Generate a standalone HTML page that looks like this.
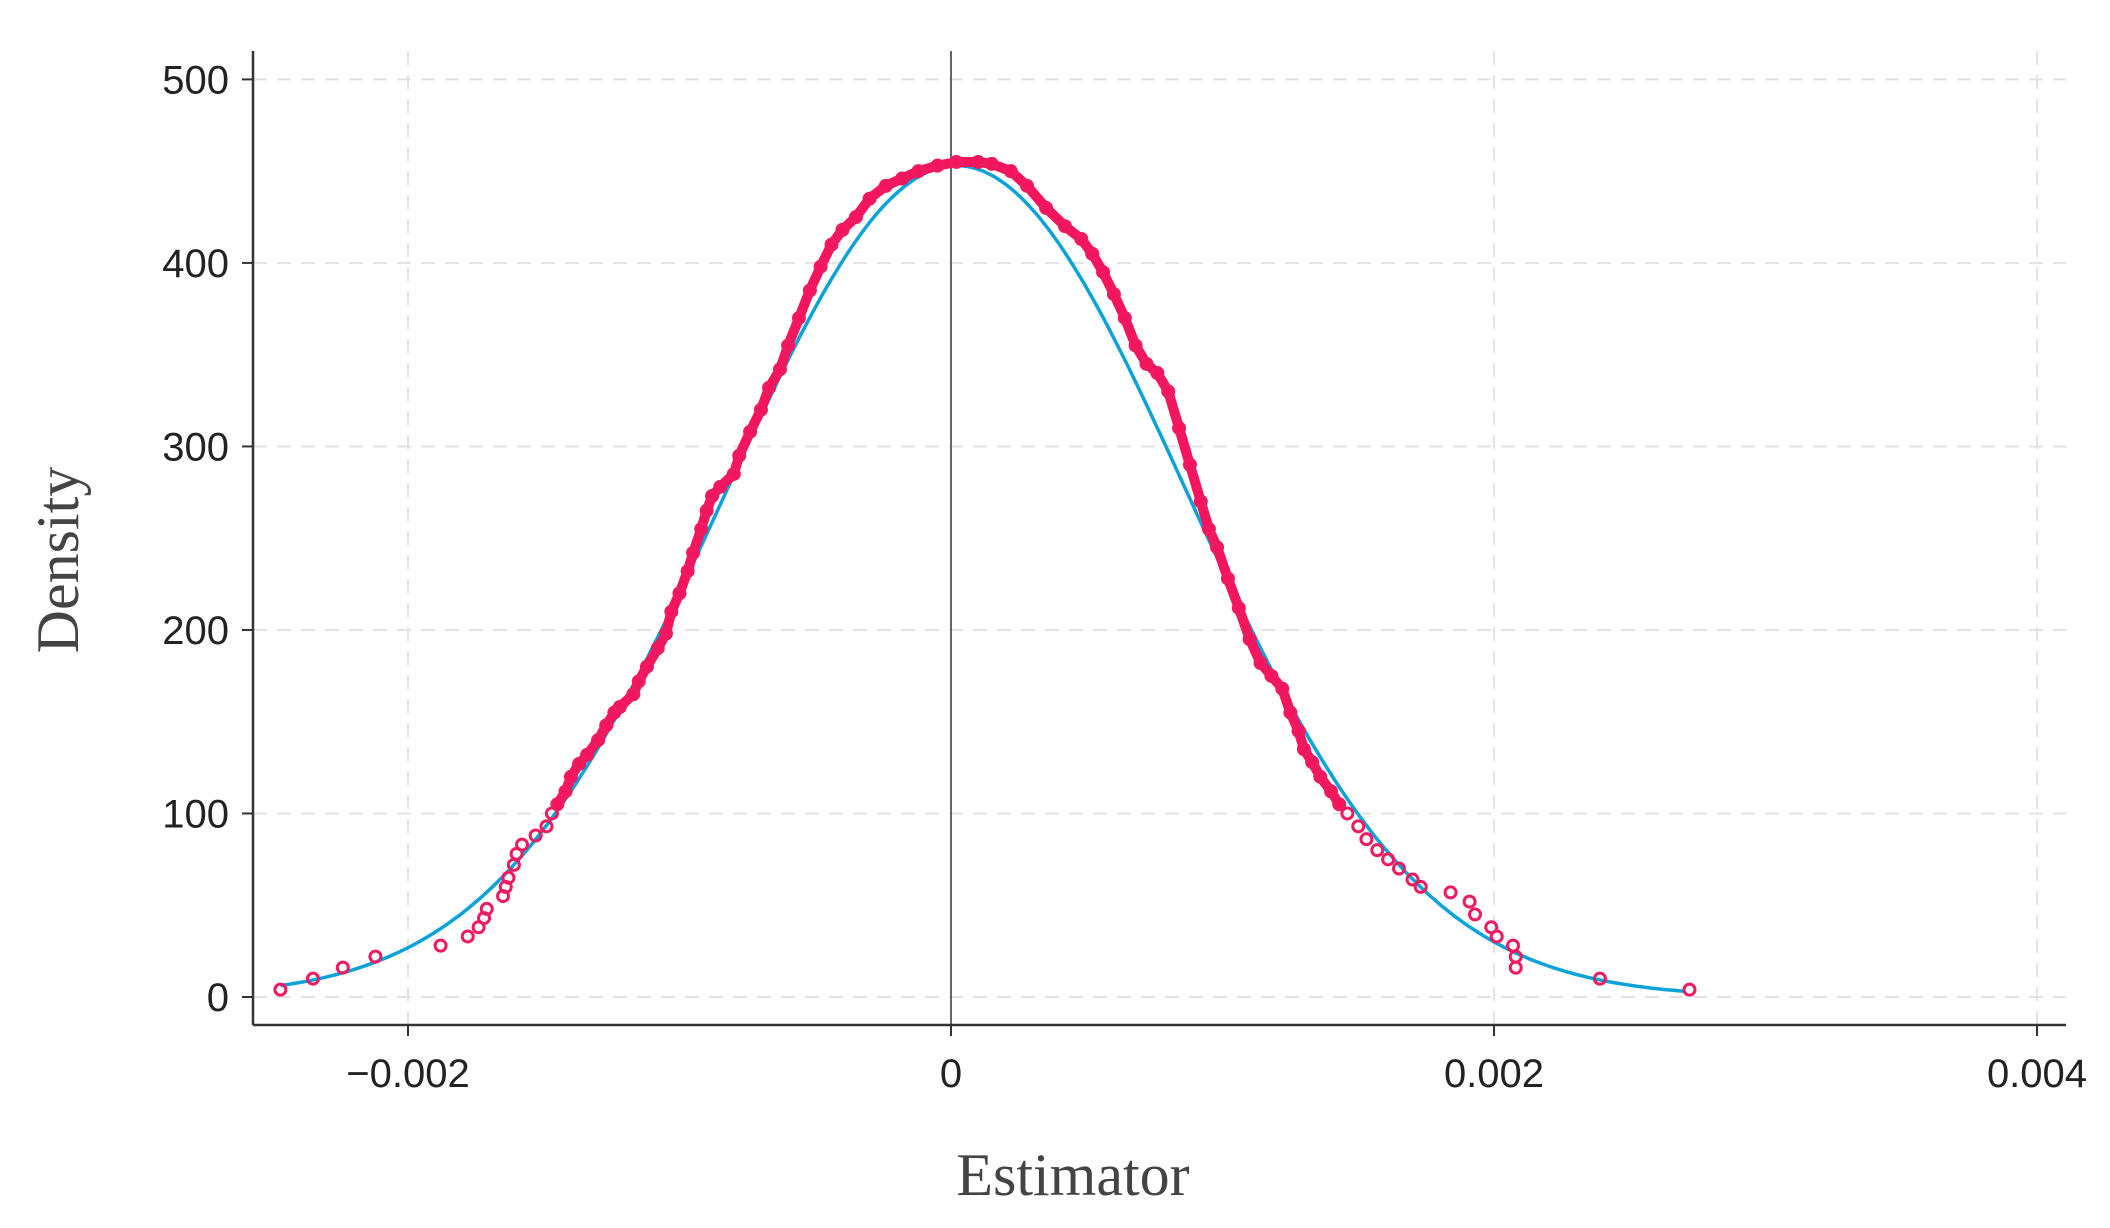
<!DOCTYPE html>
<html><head><meta charset="utf-8"><style>
html,body{margin:0;padding:0;background:#fff;}
svg{display:block;}
</style></head><body>
<svg id="chart" width="2110" height="1228" viewBox="0 0 2110 1228" xmlns="http://www.w3.org/2000/svg">
<g id="grid"></g>
<g id="axes"></g>
<g id="marks"></g>
<text transform="translate(78,560) rotate(-90)" text-anchor="middle" font-family="Liberation Serif, serif" font-size="60" fill="#444">Density</text>
<text x="1073" y="1195" text-anchor="middle" font-family="Liberation Serif, serif" font-size="60" fill="#444">Estimator</text>
</svg>
<script>
const xTicks=[-0.002,0,0.002,0.004];
const xTickLabels=["\u22120.002","0","0.002","0.004"];
const yTicks=[0,100,200,300,400,500];
const yTickLabels=["0","100","200","300","400","500"];
const normalMean=0.00002;
const normalPeak=453;
const normalSigma=0.00085;
const normalRange=[-0.00247,0.0027];
const empX=[-2.47,-2.35,-2.24,-2.12,-1.88,-1.78,-1.74,-1.72,-1.71,-1.65,-1.64,-1.63,-1.61,-1.60,-1.58,-1.53,-1.49,-1.47,-1.45,-1.42,-1.40,-1.37,-1.34,-1.30,-1.27,-1.24,-1.22,-1.17,-1.15,-1.12,-1.08,-1.05,-1.03,-1.00,-0.97,-0.95,-0.92,-0.90,-0.88,-0.85,-0.80,-0.78,-0.74,-0.70,-0.67,-0.63,-0.60,-0.56,-0.52,-0.48,-0.44,-0.40,-0.35,-0.30,-0.24,-0.18,-0.12,-0.05,0.02,0.10,0.15,0.22,0.28,0.35,0.42,0.48,0.52,0.56,0.60,0.64,0.68,0.72,0.76,0.80,0.84,0.88,0.92,0.95,0.98,1.02,1.06,1.10,1.14,1.18,1.22,1.25,1.28,1.30,1.33,1.36,1.40,1.43,1.46,1.50,1.53,1.57,1.61,1.65,1.70,1.73,1.84,1.91,1.93,1.99,2.01,2.07,2.08,2.08,2.39,2.72];
const empY=[4,10,16,22,28,33,38,43,48,55,60,65,72,78,83,88,93,100,105,112,120,127,132,140,148,155,158,165,172,180,190,198,210,220,232,242,255,265,273,278,285,295,308,320,332,342,355,370,385,398,410,418,425,435,442,446,450,453,455,455,454,450,442,430,420,413,405,395,383,370,355,345,340,330,310,290,270,255,245,228,212,195,182,175,168,155,145,135,128,120,112,105,100,93,86,80,75,70,64,60,57,52,45,38,33,28,22,16,10,4];

const NS="http://www.w3.org/2000/svg";
const L=253,R=2066,T=51,B=1025;
const X=v=>408+(v+0.002)*(1494-408)/0.004;
const Y=v=>997-v*(997-79.4)/500;
function mk(tag,attrs,parent){const e=document.createElementNS(NS,tag);for(const k in attrs)e.setAttribute(k,attrs[k]);parent.appendChild(e);return e;}
const grid=document.getElementById('grid'),axes=document.getElementById('axes'),marks=document.getElementById('marks');
yTicks.forEach((t,i)=>{
  const g=mk('line',{x1:L,x2:R,y1:Y(t),y2:Y(t),stroke:'#e3e3e3','stroke-width':2,'stroke-dasharray':'14,10'},grid);
  
  
  const tk=mk('line',{x1:L-11,x2:L,y1:Y(t),y2:Y(t),stroke:'#333','stroke-width':2},axes);
  
  
  const tx=mk('text',{x:L-24,y:Y(t)+14,'text-anchor':'end','font-family':'Liberation Sans, sans-serif','font-size':40,fill:'#222'},axes);
  tx.textContent=yTickLabels[i];
  
  
});
xTicks.forEach((t,i)=>{
  if(t!==0){
    const g=mk('line',{x1:X(t),x2:X(t),y1:T,y2:B,stroke:'#e3e3e3','stroke-width':2,'stroke-dasharray':'14,10'},grid);
    
    
  }
  const tk=mk('line',{x1:X(t),x2:X(t),y1:B,y2:B+11,stroke:'#333','stroke-width':2},axes);
  
  
  const tx=mk('text',{x:X(t),y:B+62,'text-anchor':'middle','font-family':'Liberation Sans, sans-serif','font-size':40,fill:'#222'},axes);
  tx.textContent=xTickLabels[i];
  
  
});
const zl=mk('line',{x1:X(0),x2:X(0),y1:T,y2:B,stroke:'#666','stroke-width':2},axes);


const ya=mk('line',{x1:L,x2:L,y1:T,y2:B,stroke:'#333','stroke-width':2.5},axes);


const xa=mk('line',{x1:L,x2:R,y1:B,y2:B,stroke:'#333','stroke-width':2.5},axes);


// normal curve
let d='';
for(let i=0;i<=300;i++){const x=normalRange[0]+(normalRange[1]-normalRange[0])*i/300;const y=normalPeak*Math.exp(-Math.pow((x-normalMean)/normalSigma,2)/2);d+=(i?'L':'M')+X(x).toFixed(1)+','+Y(y).toFixed(1);}
const nc=mk('path',{d:d,fill:'none',stroke:'#0aa3d9','stroke-width':3.5},marks);


// dense empirical band
let d2='';
empX.forEach((x,i)=>{if(x>=-1.45&&x<=1.45)d2+=(d2?'L':'M')+X(x/1000).toFixed(1)+','+Y(empY[i]).toFixed(1);});
const band=mk('path',{d:d2,fill:'none',stroke:'#f5155c','stroke-width':10,'stroke-linejoin':'round','stroke-linecap':'round'},marks);


empX.forEach((x,i)=>{
  const c=mk('circle',{cx:X(x/1000),cy:Y(empY[i]),r:5.5,fill:'none',stroke:'#f01a60','stroke-width':3},marks);
  
  
});
</script>
</body></html>
